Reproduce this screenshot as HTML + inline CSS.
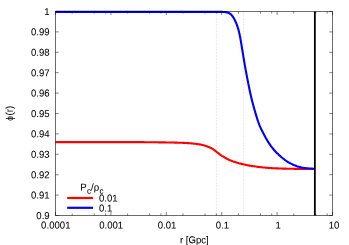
<!DOCTYPE html>
<html><head><meta charset="utf-8"><title>plot</title>
<style>
html,body{margin:0;padding:0;background:#fff;}
svg{display:block;}
text{font-family:"Liberation Sans",sans-serif;font-size:10px;fill:#000;stroke:#000;stroke-width:0.06px;}
</style></head><body>
<svg width="349" height="245" viewBox="0 0 349 245">
<rect width="349" height="245" fill="#fff"/>
<line x1="216.5" y1="11.5" x2="216.5" y2="215.5" stroke="#eaeaea" stroke-width="1.3" stroke-dasharray="2.2 0.9" stroke-opacity="0.85"/>
<line x1="243.4" y1="11.5" x2="243.4" y2="215.5" stroke="#eaeaea" stroke-width="1.3" stroke-dasharray="2.2 0.9" stroke-opacity="0.85"/>
<path d="M55.50 142.10 L120.00 142.10 120.67 142.10 121.34 142.10 122.01 142.10 122.68 142.10 123.35 142.10 124.01 142.10 124.68 142.10 125.35 142.10 126.02 142.11 126.69 142.11 127.36 142.11 128.03 142.11 128.70 142.11 129.37 142.11 130.04 142.12 130.70 142.12 131.37 142.12 132.04 142.12 132.71 142.12 133.38 142.13 134.05 142.13 134.72 142.13 135.39 142.13 136.06 142.13 136.73 142.14 137.39 142.14 138.06 142.14 138.73 142.14 139.40 142.15 140.07 142.15 140.74 142.15 141.41 142.16 142.08 142.16 142.75 142.16 143.42 142.17 144.09 142.17 144.75 142.18 145.42 142.18 146.09 142.19 146.76 142.20 147.43 142.20 148.10 142.21 148.77 142.22 149.44 142.22 150.11 142.23 150.78 142.24 151.44 142.24 152.11 142.25 152.78 142.26 153.45 142.27 154.12 142.28 154.79 142.28 155.46 142.29 156.13 142.30 156.80 142.31 157.47 142.32 158.13 142.33 158.80 142.33 159.47 142.34 160.14 142.35 160.81 142.36 161.48 142.37 162.15 142.38 162.82 142.39 163.49 142.40 164.16 142.41 164.82 142.41 165.49 142.42 166.16 142.43 166.83 142.44 167.50 142.45 168.17 142.47 168.84 142.48 169.51 142.49 170.18 142.50 170.84 142.51 171.51 142.52 172.18 142.54 172.85 142.55 173.52 142.56 174.19 142.58 174.86 142.59 175.53 142.61 176.20 142.63 176.86 142.64 177.53 142.66 178.20 142.68 178.87 142.70 179.54 142.72 180.21 142.74 180.88 142.77 181.55 142.80 182.21 142.82 182.88 142.85 183.55 142.89 184.22 142.92 184.89 142.95 185.56 142.99 186.22 143.02 186.89 143.06 187.56 143.11 188.23 143.15 188.89 143.20 189.56 143.25 190.23 143.30 190.90 143.36 191.56 143.42 192.23 143.48 192.90 143.54 193.56 143.61 194.23 143.68 194.89 143.75 195.55 143.83 196.22 143.92 196.88 144.00 197.55 144.10 198.21 144.20 198.88 144.30 199.54 144.41 200.20 144.53 200.86 144.65 201.51 144.78 202.17 144.92 202.81 145.06 203.46 145.21 204.10 145.39 204.74 145.58 205.38 145.79 206.01 146.02 206.64 146.25 207.27 146.49 207.90 146.72 208.52 146.96 209.15 147.20 209.77 147.45 210.39 147.72 211.00 148.00 211.59 148.30 212.17 148.62 212.73 148.98 213.29 149.35 213.84 149.74 214.38 150.14 214.92 150.54 215.45 150.94 215.97 151.36 216.49 151.79 217.01 152.21 217.53 152.63 218.06 153.03 218.60 153.44 219.13 153.85 219.67 154.25 220.21 154.64 220.75 155.03 221.31 155.40 221.86 155.77 222.43 156.13 223.00 156.48 223.57 156.83 224.15 157.17 224.73 157.50 225.31 157.83 225.90 158.15 226.48 158.47 227.07 158.79 227.67 159.11 228.26 159.41 228.87 159.71 229.47 160.00 230.08 160.27 230.70 160.52 231.32 160.76 231.95 160.99 232.58 161.21 233.21 161.42 233.85 161.63 234.49 161.84 235.13 162.04 235.76 162.25 236.40 162.45 237.04 162.65 237.68 162.85 238.32 163.04 238.96 163.23 239.61 163.40 240.25 163.57 240.90 163.73 241.55 163.89 242.21 164.04 242.86 164.19 243.51 164.34 244.16 164.49 244.81 164.64 245.47 164.79 246.12 164.94 246.77 165.09 247.43 165.23 248.08 165.36 248.74 165.49 249.40 165.60 250.06 165.71 250.72 165.81 251.38 165.91 252.04 166.01 252.71 166.10 253.37 166.20 254.03 166.29 254.69 166.39 255.35 166.48 256.02 166.58 256.68 166.67 257.34 166.76 258.01 166.85 258.67 166.94 259.33 167.02 260.00 167.10 260.66 167.17 261.33 167.25 261.99 167.32 262.66 167.38 263.32 167.45 263.99 167.51 264.66 167.57 265.32 167.63 265.99 167.68 266.66 167.74 267.32 167.79 267.99 167.85 268.66 167.90 269.33 167.95 269.99 168.00 270.66 168.05 271.33 168.10 272.00 168.14 272.66 168.18 273.33 168.22 274.00 168.25 274.67 168.29 275.34 168.31 276.00 168.34 276.67 168.37 277.34 168.39 278.01 168.42 278.68 168.44 279.34 168.47 280.01 168.49 280.68 168.51 281.35 168.53 282.02 168.55 282.69 168.58 283.36 168.60 284.03 168.61 284.69 168.63 285.36 168.65 286.03 168.67 286.70 168.69 287.37 168.70 288.04 168.72 288.71 168.73 289.38 168.75 290.05 168.76 290.72 168.78 291.39 168.79 292.05 168.80 292.72 168.81 293.39 168.82 294.06 168.84 294.73 168.85 295.40 168.86 296.07 168.87 296.74 168.88 297.41 168.89 298.07 168.89 298.74 168.90 299.41 168.91 300.08 168.92 300.75 168.93 301.42 168.94 302.09 168.95 302.76 168.96 303.43 168.97 304.10 168.97 304.76 168.98 305.43 168.99 306.10 169.00 306.77 169.00 307.44 169.01 308.11 169.01 308.78 169.02 309.45 169.03 310.12 169.03 310.79 169.03 311.45 169.04 312.12 169.04 312.79 169.04 313.46 169.05 314.13 169.05 314.80 169.05" fill="none" stroke="#ff0000" stroke-width="2.1" stroke-linejoin="round"/>
<path d="M55.50 11.90 L222.00 11.90 222.67 11.91 223.34 11.95 224.01 12.00 224.67 12.07 225.33 12.14 226.00 12.24 226.68 12.36 227.34 12.52 227.98 12.70 228.59 12.90 229.18 13.16 229.75 13.51 230.31 13.92 230.84 14.37 231.33 14.83 231.78 15.30 232.20 15.81 232.60 16.35 232.98 16.91 233.35 17.49 233.69 18.05 234.03 18.63 234.35 19.21 234.67 19.81 234.97 20.41 235.26 21.01 235.54 21.62 235.81 22.23 236.07 22.84 236.33 23.46 236.57 24.08 236.81 24.71 237.04 25.34 237.27 25.97 237.49 26.60 237.69 27.24 237.89 27.87 238.08 28.51 238.27 29.15 238.45 29.80 238.63 30.44 238.80 31.09 238.96 31.74 239.12 32.39 239.27 33.04 239.42 33.69 239.57 34.35 239.71 35.00 239.84 35.65 239.97 36.31 240.10 36.96 240.22 37.62 240.34 38.27 240.46 38.93 240.58 39.59 240.70 40.25 240.81 40.91 240.92 41.57 241.03 42.23 241.14 42.89 241.25 43.55 241.35 44.21 241.46 44.87 241.57 45.53 241.67 46.19 241.78 46.85 241.89 47.51 241.99 48.17 242.10 48.83 242.21 49.49 242.33 50.15 242.44 50.81 242.55 51.47 242.66 52.13 242.77 52.79 242.88 53.45 242.99 54.10 243.09 54.76 243.20 55.42 243.31 56.08 243.42 56.74 243.53 57.40 243.63 58.06 243.74 58.72 243.85 59.38 243.96 60.04 244.07 60.70 244.18 61.36 244.29 62.02 244.40 62.68 244.51 63.34 244.63 64.00 244.74 64.65 244.85 65.31 244.97 65.97 245.09 66.63 245.21 67.29 245.33 67.95 245.45 68.60 245.57 69.26 245.69 69.92 245.81 70.57 245.94 71.23 246.06 71.89 246.19 72.54 246.31 73.20 246.43 73.86 246.56 74.52 246.68 75.17 246.81 75.83 246.93 76.49 247.06 77.14 247.18 77.80 247.31 78.46 247.44 79.11 247.56 79.77 247.69 80.43 247.82 81.08 247.95 81.74 248.08 82.39 248.21 83.05 248.33 83.71 248.47 84.36 248.60 85.02 248.73 85.67 248.86 86.33 248.99 86.98 249.13 87.64 249.26 88.29 249.40 88.95 249.54 89.60 249.67 90.26 249.81 90.91 249.95 91.56 250.09 92.22 250.23 92.87 250.37 93.52 250.52 94.17 250.66 94.83 250.81 95.48 250.96 96.13 251.11 96.78 251.26 97.43 251.42 98.08 251.58 98.73 251.74 99.38 251.91 100.03 252.07 100.68 252.24 101.32 252.40 101.97 252.57 102.62 252.74 103.27 252.91 103.91 253.08 104.56 253.25 105.21 253.42 105.85 253.60 106.50 253.77 107.14 253.95 107.79 254.13 108.43 254.31 109.07 254.49 109.72 254.67 110.36 254.86 111.00 255.05 111.64 255.24 112.28 255.43 112.92 255.62 113.57 255.81 114.21 256.00 114.85 256.19 115.49 256.39 116.13 256.59 116.77 256.78 117.41 256.98 118.05 257.19 118.69 257.39 119.32 257.60 119.96 257.81 120.60 258.03 121.23 258.24 121.86 258.47 122.49 258.69 123.12 258.92 123.74 259.16 124.37 259.40 124.99 259.64 125.61 259.90 126.22 260.17 126.84 260.44 127.45 260.72 128.05 261.01 128.66 261.30 129.26 261.59 129.87 261.88 130.47 262.18 131.06 262.49 131.66 262.80 132.25 263.12 132.84 263.43 133.43 263.74 134.02 264.05 134.62 264.36 135.21 264.67 135.80 264.99 136.39 265.30 136.98 265.62 137.57 265.94 138.16 266.27 138.74 266.60 139.32 266.94 139.89 267.28 140.47 267.63 141.04 267.98 141.61 268.33 142.17 268.69 142.74 269.06 143.30 269.43 143.86 269.81 144.41 270.19 144.96 270.57 145.51 270.96 146.05 271.36 146.58 271.76 147.11 272.17 147.64 272.59 148.17 273.01 148.69 273.44 149.20 273.87 149.71 274.31 150.22 274.76 150.72 275.20 151.21 275.65 151.70 276.11 152.19 276.58 152.67 277.05 153.14 277.53 153.61 278.01 154.08 278.50 154.54 278.98 154.99 279.48 155.44 279.98 155.89 280.48 156.33 280.99 156.76 281.50 157.20 282.01 157.62 282.53 158.04 283.05 158.46 283.58 158.88 284.10 159.30 284.63 159.71 285.16 160.13 285.69 160.53 286.23 160.92 286.78 161.29 287.34 161.65 287.91 162.00 288.49 162.33 289.08 162.65 289.67 162.97 290.27 163.27 290.86 163.58 291.46 163.88 292.05 164.19 292.65 164.49 293.25 164.79 293.86 165.08 294.47 165.35 295.09 165.59 295.71 165.82 296.34 166.04 296.98 166.25 297.62 166.44 298.27 166.63 298.91 166.80 299.56 166.97 300.21 167.13 300.86 167.30 301.51 167.45 302.16 167.61 302.82 167.74 303.48 167.87 304.14 167.98 304.80 168.07 305.46 168.14 306.12 168.20 306.78 168.26 307.44 168.32 308.11 168.38 308.77 168.44 309.44 168.49 310.10 168.53 310.77 168.57 311.44 168.61 312.11 168.64 312.78 168.67 313.45 168.68 314.13 168.70 314.80 168.70" fill="none" stroke="#0000ff" stroke-width="2.1" stroke-linejoin="round"/>
<g stroke="#000" stroke-opacity="0.62" stroke-width="0.8">
<line x1="55.50" y1="215.5" x2="55.50" y2="212.0"/><line x1="55.50" y1="11.5" x2="55.50" y2="15.0"/>
<line x1="72.18" y1="215.5" x2="72.18" y2="213.4"/><line x1="72.18" y1="11.5" x2="72.18" y2="13.6"/>
<line x1="94.22" y1="215.5" x2="94.22" y2="213.4"/><line x1="94.22" y1="11.5" x2="94.22" y2="13.6"/>
<line x1="105.53" y1="215.5" x2="105.53" y2="213.4"/><line x1="105.53" y1="11.5" x2="105.53" y2="13.6"/>
<line x1="110.90" y1="215.5" x2="110.90" y2="212.0"/><line x1="110.90" y1="11.5" x2="110.90" y2="15.0"/>
<line x1="127.58" y1="215.5" x2="127.58" y2="213.4"/><line x1="127.58" y1="11.5" x2="127.58" y2="13.6"/>
<line x1="149.62" y1="215.5" x2="149.62" y2="213.4"/><line x1="149.62" y1="11.5" x2="149.62" y2="13.6"/>
<line x1="160.93" y1="215.5" x2="160.93" y2="213.4"/><line x1="160.93" y1="11.5" x2="160.93" y2="13.6"/>
<line x1="166.30" y1="215.5" x2="166.30" y2="212.0"/><line x1="166.30" y1="11.5" x2="166.30" y2="15.0"/>
<line x1="182.98" y1="215.5" x2="182.98" y2="213.4"/><line x1="182.98" y1="11.5" x2="182.98" y2="13.6"/>
<line x1="205.02" y1="215.5" x2="205.02" y2="213.4"/><line x1="205.02" y1="11.5" x2="205.02" y2="13.6"/>
<line x1="216.33" y1="215.5" x2="216.33" y2="213.4"/><line x1="216.33" y1="11.5" x2="216.33" y2="13.6"/>
<line x1="221.70" y1="215.5" x2="221.70" y2="212.0"/><line x1="221.70" y1="11.5" x2="221.70" y2="15.0"/>
<line x1="238.38" y1="215.5" x2="238.38" y2="213.4"/><line x1="238.38" y1="11.5" x2="238.38" y2="13.6"/>
<line x1="260.42" y1="215.5" x2="260.42" y2="213.4"/><line x1="260.42" y1="11.5" x2="260.42" y2="13.6"/>
<line x1="271.73" y1="215.5" x2="271.73" y2="213.4"/><line x1="271.73" y1="11.5" x2="271.73" y2="13.6"/>
<line x1="277.10" y1="215.5" x2="277.10" y2="212.0"/><line x1="277.10" y1="11.5" x2="277.10" y2="15.0"/>
<line x1="293.78" y1="215.5" x2="293.78" y2="213.4"/><line x1="293.78" y1="11.5" x2="293.78" y2="13.6"/>
<line x1="315.82" y1="215.5" x2="315.82" y2="213.4"/><line x1="315.82" y1="11.5" x2="315.82" y2="13.6"/>
<line x1="327.13" y1="215.5" x2="327.13" y2="213.4"/><line x1="327.13" y1="11.5" x2="327.13" y2="13.6"/>
<line x1="332.50" y1="215.5" x2="332.50" y2="212.0"/><line x1="332.50" y1="11.5" x2="332.50" y2="15.0"/>
<line x1="55.5" y1="11.50" x2="58.7" y2="11.50"/><line x1="332.5" y1="11.50" x2="329.3" y2="11.50"/>
<line x1="55.5" y1="31.90" x2="58.7" y2="31.90"/><line x1="332.5" y1="31.90" x2="329.3" y2="31.90"/>
<line x1="55.5" y1="52.30" x2="58.7" y2="52.30"/><line x1="332.5" y1="52.30" x2="329.3" y2="52.30"/>
<line x1="55.5" y1="72.70" x2="58.7" y2="72.70"/><line x1="332.5" y1="72.70" x2="329.3" y2="72.70"/>
<line x1="55.5" y1="93.10" x2="58.7" y2="93.10"/><line x1="332.5" y1="93.10" x2="329.3" y2="93.10"/>
<line x1="55.5" y1="113.50" x2="58.7" y2="113.50"/><line x1="332.5" y1="113.50" x2="329.3" y2="113.50"/>
<line x1="55.5" y1="133.90" x2="58.7" y2="133.90"/><line x1="332.5" y1="133.90" x2="329.3" y2="133.90"/>
<line x1="55.5" y1="154.30" x2="58.7" y2="154.30"/><line x1="332.5" y1="154.30" x2="329.3" y2="154.30"/>
<line x1="55.5" y1="174.70" x2="58.7" y2="174.70"/><line x1="332.5" y1="174.70" x2="329.3" y2="174.70"/>
<line x1="55.5" y1="195.10" x2="58.7" y2="195.10"/><line x1="332.5" y1="195.10" x2="329.3" y2="195.10"/>
<line x1="55.5" y1="215.50" x2="58.7" y2="215.50"/><line x1="332.5" y1="215.50" x2="329.3" y2="215.50"/>
</g>
<rect x="55.5" y="11.5" width="277.0" height="204.0" fill="none" stroke="#000" stroke-opacity="0.58" stroke-width="1"/>
<line x1="314.85" y1="11.5" x2="314.85" y2="215.5" stroke="#000" stroke-width="1.8"/>
<line x1="67.2" y1="198" x2="93.1" y2="198" stroke="#ff0000" stroke-width="2.2"/>
<line x1="67.2" y1="207.8" x2="93.1" y2="207.8" stroke="#0000ff" stroke-width="2.2"/>
<g style="will-change:transform">
<text transform="translate(80.30 190.60) rotate(0.03) scale(0.960 0.990)" text-anchor="start">P<tspan font-size="8.4px" dy="3.1" dx="0.2">c</tspan><tspan dy="-3.1" dx="0.1">/ρ</tspan><tspan font-size="8.4px" dy="3.1" dx="0.3">c</tspan></text>
<text transform="translate(98.90 201.60) rotate(0.03) scale(0.960 0.990)" text-anchor="start">0.01</text>
<text transform="translate(98.90 211.40) rotate(0.03) scale(0.960 0.990)" text-anchor="start">0.1</text>
<text transform="translate(49.70 14.95) rotate(0.03) scale(0.960 0.990)" text-anchor="end">1</text>
<text transform="translate(49.70 35.35) rotate(0.03) scale(0.960 0.990)" text-anchor="end">0.99</text>
<text transform="translate(49.70 55.75) rotate(0.03) scale(0.960 0.990)" text-anchor="end">0.98</text>
<text transform="translate(49.70 76.15) rotate(0.03) scale(0.960 0.990)" text-anchor="end">0.97</text>
<text transform="translate(49.70 96.55) rotate(0.03) scale(0.960 0.990)" text-anchor="end">0.96</text>
<text transform="translate(49.70 116.95) rotate(0.03) scale(0.960 0.990)" text-anchor="end">0.95</text>
<text transform="translate(49.70 137.35) rotate(0.03) scale(0.960 0.990)" text-anchor="end">0.94</text>
<text transform="translate(49.70 157.75) rotate(0.03) scale(0.960 0.990)" text-anchor="end">0.93</text>
<text transform="translate(49.70 178.15) rotate(0.03) scale(0.960 0.990)" text-anchor="end">0.92</text>
<text transform="translate(49.70 198.55) rotate(0.03) scale(0.960 0.990)" text-anchor="end">0.91</text>
<text transform="translate(49.70 218.95) rotate(0.03) scale(0.960 0.990)" text-anchor="end">0.9</text>
<text transform="translate(55.80 228.60) rotate(0.03) scale(0.960 0.990)" text-anchor="middle">0.0001</text>
<text transform="translate(111.20 228.60) rotate(0.03) scale(0.960 0.990)" text-anchor="middle">0.001</text>
<text transform="translate(167.00 228.60) rotate(0.03) scale(0.960 0.990)" text-anchor="middle">0.01</text>
<text transform="translate(222.50 228.60) rotate(0.03) scale(0.960 0.990)" text-anchor="middle">0.1</text>
<text transform="translate(278.20 228.60) rotate(0.03) scale(0.960 0.990)" text-anchor="middle">1</text>
<text transform="translate(334.10 228.60) rotate(0.03) scale(0.960 0.990)" text-anchor="middle">10</text>
<text transform="translate(194.30 243.20) rotate(0.03) scale(0.960 0.990)" text-anchor="middle">r [Gpc]</text>
<text transform="translate(12.7 118.5) rotate(-90.03) scale(0.84 0.99)" text-anchor="middle">ϕ</text>
<text transform="translate(12.70 115.50) rotate(-90.03) scale(0.960 0.990)" text-anchor="start">(r)</text>
</g>
</svg>
</body></html>
